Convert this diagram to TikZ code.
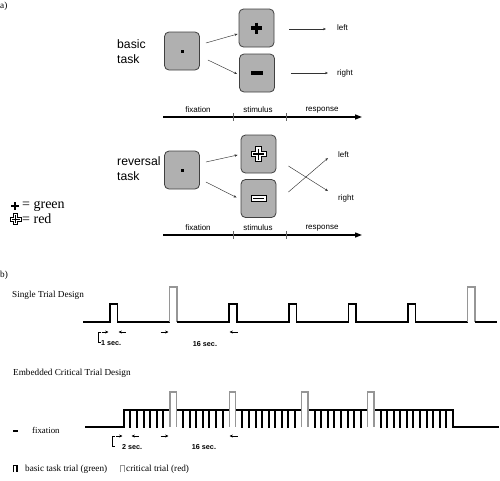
\documentclass[tikz,border=0pt]{standalone}
\usepackage{fontspec}
\setmainfont{Liberation Serif}
\newfontfamily\arial{Liberation Sans}
\usetikzlibrary{arrows.meta}
\definecolor{boxgray}{RGB}{176,176,176}
\definecolor{critgray}{RGB}{150,150,150}
\begin{document}
\begin{tikzpicture}[x=1pt,y=-1pt,
  stimbox/.style={draw=black!75, fill=boxgray, rounded corners=4.5pt, line width=0.8pt, minimum width=35pt, minimum height=38pt, inner sep=0pt},
  lab/.style={font=\arial\fontsize{8}{9}\selectfont, inner sep=0pt, anchor=west},
  tasklab/.style={font=\arial\fontsize{12.2}{15}\selectfont, align=left, inner sep=0pt, anchor=west},
  thinarr/.style={-{Stealth[length=3pt,width=2.4pt]}, line width=0.45pt, draw=black!80},
  timeline/.style={-{Triangle[length=7pt,width=5pt]}, line width=1.3pt},
  tickmark/.style={line width=0.4pt, draw=black!60},
  serif/.style={font=\fontsize{9.2}{11}\selectfont, inner sep=0pt, anchor=west},
  legtxt/.style={font=\fontsize{14}{16}\selectfont, inner sep=0pt, anchor=west},
  sec/.style={font=\arial\bfseries\fontsize{7.2}{8}\selectfont, inner sep=0pt},
  pulse/.style={line width=1.6pt, line join=miter},
  crit/.style={line width=1.3pt, draw=critgray, line join=miter},
  dimarr/.style={-{Stealth[length=3.4pt,width=3pt]}, line width=0.6pt},
  bracket/.style={line width=0.5pt},
  bcross/.pic={\draw[line width=3.4pt] (-5.5,0) -- (5.5,0) (0,-5.5) -- (0,5.5);},
  bminus/.pic={\draw[line width=3.6pt] (-6,0) -- (6,0);},
  smallcross/.pic={\draw[line width=2.2pt] (-3.6,0) -- (3.6,0) (0,-3.6) -- (0,3.6);},
  ocross/.pic={\filldraw[fill=white, line width=1pt] (-2.6,-7.5) -- (2.6,-7.5) -- (2.6,-2.6) -- (7.5,-2.6) -- (7.5,2.6) -- (2.6,2.6) -- (2.6,7.5) -- (-2.6,7.5) -- (-2.6,2.6) -- (-7.5,2.6) -- (-7.5,-2.6) -- (-2.6,-2.6) -- cycle;
    \draw[line width=1.1pt] (-5.5,0) -- (5.5,0) (0,-5.5) -- (0,5.5);},
  socross/.pic={\filldraw[fill=white, line width=0.8pt] (-2,-5.5) -- (2,-5.5) -- (2,-2) -- (5.5,-2) -- (5.5,2) -- (2,2) -- (2,5.5) -- (-2,5.5) -- (-2,2) -- (-5.5,2) -- (-5.5,-2) -- (-2,-2) -- cycle;
    \draw[line width=0.9pt] (-4,0) -- (4,0) (0,-4) -- (0,4);},
  ominus/.pic={\filldraw[fill=white, line width=1pt] (-7.5,-3) rectangle (7.5,3);
    \draw[line width=1.1pt] (-5.5,0) -- (5.5,0);},
]
\useasboundingbox (0,0) rectangle (500,480);

% ---------------- a) ----------------
\node[serif] (alab) at (0,6) {a)};

% basic task
\node[tasklab] (basic) at (117,52) {basic\\task};
\node[stimbox] (fixA) at (182,51) {};
\node[fill=black, minimum size=3pt, inner sep=0pt] (dotA) at (fixA) {};
\node[stimbox] (plusA) at (256.5,28) {};
\pic at (plusA) {bcross};
\node[stimbox] (minusA) at (257,73) {};
\pic at (minusA) {bminus};
\node[lab] (leftA) at (337,28) {left};
\node[lab] (rightA) at (337,73) {right};
\draw[thinarr] ([xshift=6pt,yshift=8pt]fixA.east) -- ([xshift=-1pt,yshift=-6pt]plusA.west);
\draw[thinarr] ([xshift=8pt,yshift=-9pt]fixA.east) -- ([xshift=-2pt,yshift=-1pt]minusA.west);
\draw[thinarr] ([xshift=15pt,yshift=-1pt]plusA.east) -- ([xshift=-11pt,yshift=-1pt]leftA.west);
\draw[thinarr] ([xshift=16pt]minusA.east) -- ([xshift=-9pt]rightA.west);

\coordinate (tA0) at (163,117);
\coordinate (tA1) at (362,117);
\draw[timeline] (tA0) -- (tA1);
\draw[tickmark] (233,113) -- (233,121) (286,113) -- (286,121);
\node[lab, anchor=center] (fxA) at (198,110) {fixation};
\node[lab, anchor=center] (stA) at (258,110) {stimulus};
\node[lab, anchor=center] (rsA) at (322,110) {response};

% reversal task
\node[tasklab] (rev) at (117,169) {reversal\\task};
\node[stimbox] (fixB) at (182,170) {};
\node[fill=black, minimum size=3pt, inner sep=0pt] (dotB) at (fixB) {};
\node[stimbox] (plusB) at (258.5,154) {};
\pic at (plusB) {ocross};
\node[stimbox] (minusB) at (258.5,198.5) {};
\pic at (minusB) {ominus};
\node[lab] (leftB) at (338,155) {left};
\node[lab] (rightB) at (338,198) {right};
\draw[thinarr] ([xshift=6pt,yshift=8pt]fixB.east) -- ([xshift=-3pt,yshift=-1pt]plusB.west);
\draw[thinarr] ([xshift=6pt,yshift=-12pt]fixB.east) -- ([xshift=-4pt,yshift=1pt]minusB.west);
\draw[thinarr] ([xshift=12pt,yshift=-12pt]plusB.east) -- ([xshift=-10pt,yshift=7pt]rightB.west);
\draw[thinarr] ([xshift=12pt,yshift=6.5pt]minusB.east) -- ([xshift=-10pt,yshift=-3pt]leftB.west);

\coordinate (tB0) at (163,235);
\coordinate (tB1) at (362,235);
\draw[timeline] (tB0) -- (tB1);
\draw[tickmark] (233,231) -- (233,239) (286,231) -- (286,239);
\node[lab, anchor=center] (fxB) at (198,228) {fixation};
\node[lab, anchor=center] (stB) at (258,228) {stimulus};
\node[lab, anchor=center] (rsB) at (322,228) {response};

% legend a
\pic at (15,206) {smallcross};
\node[legtxt] (green) at (22,206) {= green};
\pic at (15.5,219) {socross};
\node[legtxt] (red) at (22,219) {= red};

% ---------------- b) ----------------
\node[serif] (blab) at (0,275) {b)};
\node[serif] (single) at (12,295) {Single Trial Design};

% single trial timeline
\draw[pulse] (83,322) -- (110,322) -- (110,304) -- (117.5,304) -- (117.5,322) -- (169.6,322);
\draw[crit] (169.6,322) -- (169.6,287) -- (177.1,287) -- (177.1,322);
\draw[pulse] (177.1,322) -- (229.2,322) -- (229.2,304) -- (236.7,304) -- (236.7,322)
  -- (288.8,322) -- (288.8,304) -- (296.3,304) -- (296.3,322)
  -- (348.4,322) -- (348.4,304) -- (355.9,304) -- (355.9,322)
  -- (408,322) -- (408,304) -- (415.5,304) -- (415.5,322) -- (467.6,322);
\draw[crit] (467.6,322) -- (467.6,287) -- (475.1,287) -- (475.1,322);
\draw[pulse] (475.1,322) -- (497,322);

\draw[bracket] (101,332) -- (98,332) -- (98,342) -- (101,342);
\draw[dimarr] (101.5,332) -- (108.5,332);
\draw[dimarr] (125.5,332) -- (118.5,332);
\node[sec, anchor=west] (onesec) at (101,343) {1 sec.};
\draw[dimarr] (160.5,332) -- (168.5,332);
\draw[dimarr] (237.5,332) -- (229.5,332);
\node[sec] (sixA) at (205,344) {16 sec.};

% embedded design
\node[serif] (embed) at (13,373) {Embedded Critical Trial Design};
\draw[pulse] (85,427) -- (123.9,427) -- (123.9,410) -- (170.0,410);
\draw[pulse] (176.5,410) -- (229.2,410);
\draw[pulse] (235.8,410) -- (301.6,410);
\draw[pulse] (308.2,410) -- (367.4,410);
\draw[pulse] (374.0,410) -- (452.9,410) -- (452.9,427) -- (499,427);
\foreach \k in {7,16,27,37}{
  \draw[crit] ({123.9+6.58*\k},427) -- ({123.9+6.58*\k},392) -- ({123.9+6.58*(\k+1)},392) -- ({123.9+6.58*(\k+1)},427);
}
\foreach \k in {1,...,6,9,10,...,15,18,19,...,26,29,30,...,36,39,40,...,49}{
  \draw[line width=2pt] ({123.9+6.58*\k},410) -- ({123.9+6.58*\k},427.5);
}
\draw[bracket] (115,436) -- (112,436) -- (112,446) -- (115,446);
\draw[dimarr] (116,436) -- (122.5,436);
\draw[dimarr] (138.5,436) -- (131.5,436);
\node[sec, anchor=west] (twosec) at (122,447) {2 sec.};
\draw[dimarr] (160.5,436) -- (168.5,436);
\draw[dimarr] (237.5,436) -- (229.5,436);
\node[sec] (sixB) at (204,447) {16 sec.};

% legend b
\draw[line width=1.6pt] (13,431) -- (17.5,431);
\node[serif, font=\fontsize{8.8}{10}\selectfont] (fixlab) at (32,430) {fixation};
\draw[line width=1.3pt] (13.3,472) -- (13.3,465.5) -- (17,465.5) -- (17,472);
\node[serif] (basiclab) at (25,469) {basic task trial (green)};
\draw[crit, line width=1pt] (120.3,472) -- (120.3,465.5) -- (124,465.5) -- (124,472);
\node[serif] (critlab) at (126,469) {critical trial (red)};
\end{tikzpicture}
\end{document}
